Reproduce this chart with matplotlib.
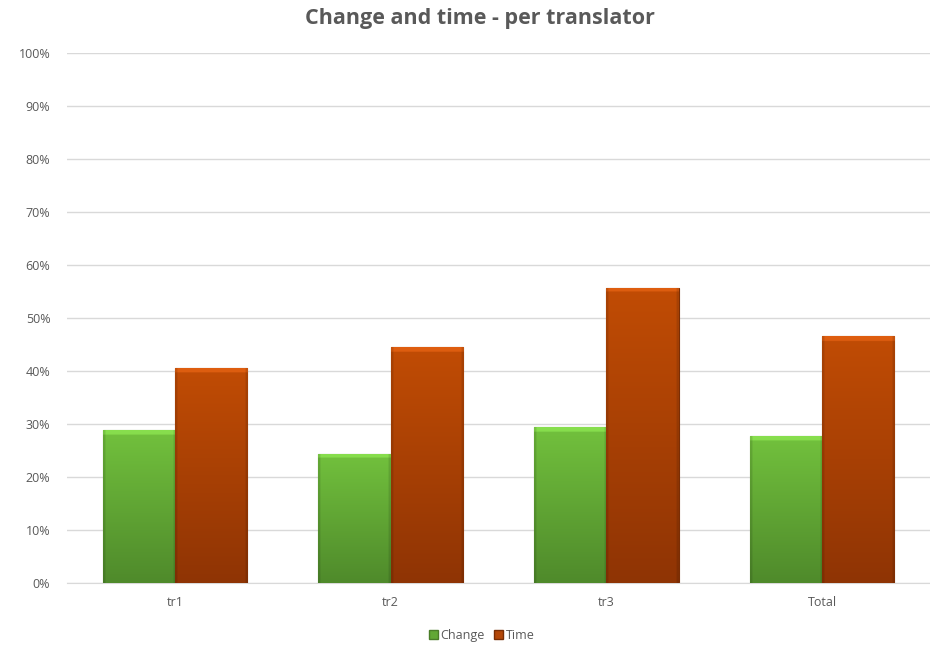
import numpy as np
import matplotlib
matplotlib.use("Agg")
import matplotlib.pyplot as plt
from matplotlib.patches import Patch
from matplotlib.ticker import PercentFormatter
from matplotlib.colors import to_rgb

# share of change and of time, per translator
tradutores = ["tr1", "tr2", "tr3", "Total"]
change = [0.288, 0.244, 0.294, 0.277]
time = [0.405, 0.445, 0.557, 0.466]

plt.rcParams['font.family'] = ['Open Sans', 'DejaVu Sans']
CINZA = "#595959"

fig = plt.figure(figsize=(9.3, 6.45), dpi=100)
ax = fig.add_axes([67/930, 1-583/645, 863/930, 530/645])

x = np.arange(len(tradutores))
larg = 0.335

def barra_gradiente(barras, topo, base, borda):
    # preenche cada barra com degradê vertical e um chanfro claro em cima
    c_topo = np.array(to_rgb(topo))
    c_base = np.array(to_rgb(base))
    for b in barras:
        x0, y0 = b.get_x(), b.get_y()
        w, h = b.get_width(), b.get_height()
        linhas = 200
        cols = 60
        t = np.linspace(0, 1, linhas)[:, None]  # 0 = topo, 1 = base
        img = c_topo * (1 - t[..., None]) + c_base * t[..., None]
        img = np.repeat(img, cols, axis=1)
        # chanfro superior (uns 4 px)
        chanfro = int(linhas * 0.008 / h) + 1
        img[:chanfro] = np.clip(img[:chanfro] * 1.1 + 0.04, 0, 1)
        # bordas laterais um pouco mais escuras
        lado = 2
        img[:, :lado] *= 0.88
        img[:, -lado:] *= 0.88
        im = ax.imshow(img, extent=[x0, x0 + w, y0, y0 + h], aspect='auto',
                       origin='upper', zorder=3, interpolation='bilinear')
        im.set_clip_path(b)
        b.set_edgecolor(borda)
        b.set_linewidth(0.8)

b1 = ax.bar(x - larg/2, change, larg, color="#62a835", zorder=2)
b2 = ax.bar(x + larg/2, time, larg, color="#b44708", zorder=2)
barra_gradiente(b1, "#72c13d", "#4f8a2b", "#4a7d28")
barra_gradiente(b2, "#c14c05", "#8f3404", "#7a2e05")

ax.set_xlim(-0.5, len(tradutores) - 0.5)
ax.set_ylim(0, 1)
ax.set_yticks(np.arange(0, 1.01, 0.1))
ax.yaxis.set_major_formatter(PercentFormatter(1.0, decimals=0))
ax.set_xticks(x)
ax.set_xticklabels(tradutores)
ax.tick_params(length=0, colors=CINZA, labelsize=9)
ax.tick_params(axis='x', pad=9)
ax.tick_params(axis='y', pad=12)
ax.grid(axis='y', color="#d9d9d9", linewidth=1, zorder=0)
ax.set_axisbelow(True)
for lado in ["top", "right", "left"]:
    ax.spines[lado].set_visible(False)
ax.spines["bottom"].set_color("#d9d9d9")

fig.text(0.516, 0.972, "Change and time - per translator", ha='center', va='center',
         fontsize=15.5, fontweight='bold', color=CINZA)

legenda = [Patch(facecolor="#62a835", edgecolor="#4a7d28", label="Change"),
           Patch(facecolor="#b44708", edgecolor="#7a2e05", label="Time")]
fig.legend(handles=legenda, loc='center', bbox_to_anchor=(0.518, 0.015), ncol=2,
           frameon=False, fontsize=9, labelcolor=CINZA, handlelength=0.7,
           handleheight=0.7, handletextpad=0.2, columnspacing=0.8)

fig.savefig("out.png", dpi=100)
